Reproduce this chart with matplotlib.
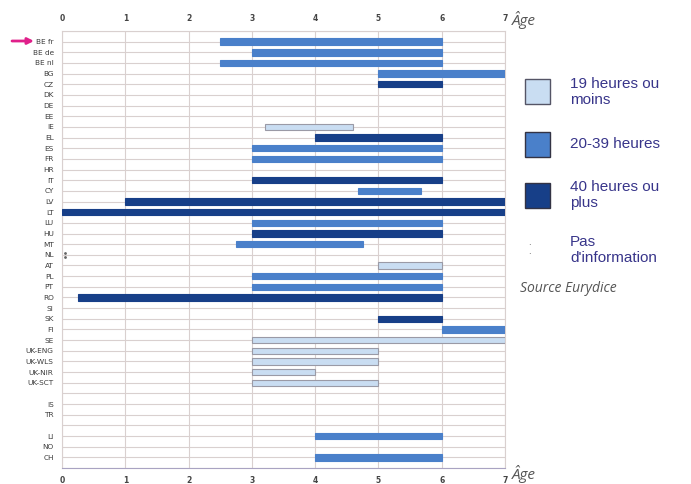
import matplotlib.pyplot as plt
from matplotlib.patches import Rectangle

# Rows from top to bottom ("" = empty spacer row)
countries = ["BE fr", "BE de", "BE nl", "BG", "CZ", "DK", "DE", "EE", "IE", "EL",
             "ES", "FR", "HR", "IT", "CY", "LV", "LT", "LU", "HU", "MT",
             "NL", "AT", "PL", "PT", "RO", "SI", "SK", "FI", "SE", "UK-ENG",
             "UK-WLS", "UK-NIR", "UK-SCT", "", "IS", "TR", "", "LI", "NO", "CH"]
# age at which entitlement starts / ends (None = no entitlement)
start_age = [2.5, 3, 2.5, 5, 5, None, None, None, 3.2, 4,
             3, 3, None, 3, 4.67, 1, 0, 3, 3, 2.75,
             None, 5, 3, 3, 0.25, None, 5, 6, 3, 3,
             3, 3, 3, None, None, None, None, 4, None, 4]
end_age = [6, 6, 6, 7, 6, None, None, None, 4.6, 6,
           6, 6, None, 6, 5.67, 7, 7, 6, 6, 4.75,
           None, 6, 6, 6, 6, None, 6, 7, 7, 5,
           5, 4, 5, None, None, None, None, 6, None, 6]
# weekly hours: "low" <=19h, "mid" 20-39h, "high" >=40h, "na" no info
hours = ["mid", "mid", "mid", "mid", "high", None, None, None, "low", "high",
         "mid", "mid", None, "high", "mid", "high", "high", "mid", "high", "mid",
         "na", "low", "mid", "mid", "high", None, "high", "mid", "low", "low",
         "low", "low", "low", None, None, None, None, "mid", None, "mid"]

age_ticks = [0, 1, 2, 3, 4, 5, 6, 7]
legend_labels = {"low": "19 heures ou\nmoins", "mid": "20-39 heures",
                 "high": "40 heures ou\nplus", "na": "Pas\nd'information"}

colors = {"low": "#c9ddf2", "mid": "#4a80ca", "high": "#173f88"}
edges = {"low": "#9a9aa6", "mid": "#4a80ca", "high": "#173f88"}
grid_col = "#d9d0cf"
text_col = "#38358a"

fig = plt.figure(figsize=(6.91, 4.84), dpi=100)
ax = fig.add_axes([62 / 691, 1 - 468 / 484, 443 / 691, 437 / 484])

rows = list(range(len(countries)))
for y, s, e, h in zip(rows, start_age, end_age, hours):
    if h in colors:
        ax.barh(y, e - s, left=s, height=0.6, color=colors[h],
                edgecolor=edges[h], linewidth=0.8, zorder=3)
    elif h == "na":
        ax.scatter([0.05, 0.05], [y - 0.2, y + 0.2], s=1, color="#666666", zorder=3)

ax.set_xlim(0, 7)
ax.set_ylim(len(countries), -1)
ax.set_yticks(rows)
ax.set_yticklabels(countries, fontsize=5.3, color="#3c3c3c", family="Liberation Sans Narrow")
ax.set_xticks(age_ticks)
ax.set_xticklabels([str(t) for t in age_ticks], fontsize=5.5, color="#444444",
                   fontweight="bold")
ax.tick_params(axis="x", top=True, labeltop=True, length=0, pad=6)
ax.tick_params(axis="y", length=0, pad=6)
for yy in range(-1, len(countries) + 1):
    ax.axhline(yy, color=grid_col, linewidth=0.8, zorder=1)
for xx in age_ticks:
    ax.axvline(xx, color=grid_col, linewidth=0.8, zorder=1)
for side in ["top", "right", "left"]:
    ax.spines[side].set_color(grid_col)
ax.spines["bottom"].set_color("#a9a3c2")

# axis titles
fig.text(512 / 691, 1 - 20 / 484, "Âge", fontsize=11, style="italic",
         color="#555555", va="center", family="Open Sans")
fig.text(512 / 691, 1 - 474 / 484, "Âge", fontsize=11, style="italic",
         color="#555555", va="center", family="Open Sans")

# arrow pointing to BE fr
fig.add_artist(plt.Annotation("", xy=(34 / 691, 1 - 41 / 484), xytext=(12 / 691, 1 - 41 / 484),
                              xycoords="figure fraction",
                              arrowprops=dict(arrowstyle="-|>", color="#e0208a", lw=2,
                                              mutation_scale=9, shrinkA=0, shrinkB=0)))

# legend
leg_items = [("low", 79, 92), ("mid", 132, 144), ("high", 183, 195), ("na", 248, 250)]
for key, sq_top, txt_y in leg_items:
    if key in colors:
        fig.add_artist(Rectangle((525 / 691, 1 - (sq_top + 25) / 484), 25 / 691, 25 / 484,
                                 transform=fig.transFigure, facecolor=colors[key],
                                 edgecolor="#555566" if key == "low" else "#333344",
                                 linewidth=1))
    else:
        fig.text(528 / 691, 1 - 246 / 484, "·", fontsize=6, color="#444444", va="center")
        fig.text(528 / 691, 1 - 255 / 484, "·", fontsize=6, color="#444444", va="center")
    fig.text(570 / 691, 1 - txt_y / 484, legend_labels[key], fontsize=11,
             color=text_col, va="center", family="Liberation Sans", linespacing=1.2)

fig.text(520 / 691, 1 - 288 / 484, "Source Eurydice", fontsize=10, style="italic",
         color="#555555", va="center", family="Open Sans")

fig.savefig("out.png", dpi=100)
